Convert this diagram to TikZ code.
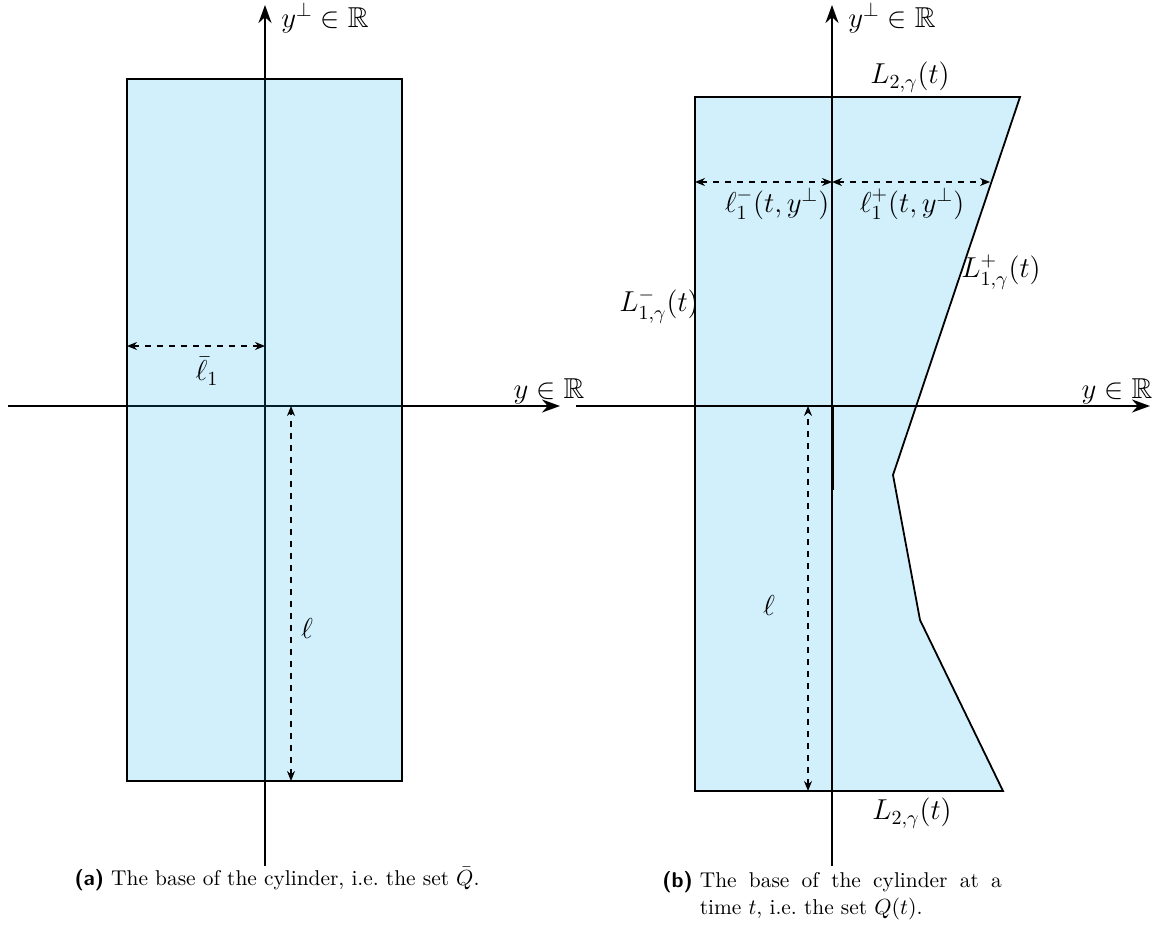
\documentclass[tikz,border=0pt]{standalone}
\usepackage{amsmath, amssymb}
\usepackage{tikz}
\usetikzlibrary{arrows.meta, positioning, calc}

\begin{document}
\begin{tikzpicture}[x=0.5pt, y=-0.5pt,
    axis/.style={-{Stealth[length=9pt, width=6.5pt]}, line width=1.3pt},
    region/.style={draw=black, line width=0.9pt, fill=cyan, fill opacity=0.18, draw opacity=1},
    measure/.style={{Stealth[length=5pt, width=4pt]}-{Stealth[length=5pt, width=4pt]},
                    dashed, line width=0.6pt},
    lbl/.style={font=\Large, inner sep=1pt},
    capt/.style={font=\fontsize{10.7}{13.2}\selectfont, inner sep=0pt}
]
    \useasboundingbox (0,0) rectangle (1166,941);

    % (a) the fixed base
    \coordinate (a-bot) at (265,866);
    \coordinate (a-top) at (265,5);
    \coordinate (a-left) at (8,406);
    \coordinate (a-right) at (560,406);
    \draw[axis] (a-bot) -- (a-top);
    \draw[axis] (a-left) -- (a-right);
    \node[lbl, anchor=west] (a-yperp) at (279,18) {$y^{\perp}\in\mathbb{R}$};
    \node[lbl] (a-y) at (549,391) {$y\in\mathbb{R}$};

    \draw[region] (127,79) rectangle (402,781);

    \coordinate (a-m1) at (127,346);
    \coordinate (a-m2) at (265,346);
    \draw[measure] (a-m1) -- (a-m2);
    \node[lbl] (a-l1) at (207,371) {$\bar{\ell}_1$};
    \coordinate (a-h1) at (291,781);
    \coordinate (a-h2) at (291,406);
    \draw[measure] (a-h1) -- (a-h2);
    \node[lbl] (a-l) at (307,628) {$\ell$};

    \node[capt] (cap-a) at (277,879)
        {\textsf{\textbf{(a)}} The base of the cylinder, i.e.\ the set $\bar{Q}$.};

    % (b) the moving base
    \draw[region] (695,97) -- (1020,97) -- (893,475) -- (920,620)
        -- (1003,791) -- (695,791) -- cycle;

    \coordinate (b-bot) at (832,866);
    \coordinate (b-top) at (832,5);
    \coordinate (b-left) at (576,406);
    \coordinate (b-right) at (1150,406);
    \coordinate (b-o) at (832,406);
    \coordinate (b-o2) at (832,490);
    \draw[axis] (b-bot) -- (b-top);
    \draw[axis] (b-left) -- (b-right);
    \draw[line width=1.5pt] (b-o) -- (b-o2);
    \node[lbl, anchor=west] (b-yperp) at (846,18) {$y^{\perp}\in\mathbb{R}$};
    \node[lbl] (b-y) at (1117,391) {$y\in\mathbb{R}$};

    \coordinate (b-m1) at (695,182);
    \coordinate (b-m2) at (832,182);
    \coordinate (b-m3) at (990,182);
    \draw[measure] (b-m1) -- (b-m2);
    \draw[measure] (b-m2) -- (b-m3);
    \node[lbl] (b-lminus) at (777,204) {$\ell_1^-(t,y^{\perp})$};
    \node[lbl] (b-lplus) at (912,204) {$\ell_1^+(t,y^{\perp})$};

    \node[lbl] (b-L2top) at (910,77) {$L_{2,\gamma}(t)$};
    \node[lbl] (b-L2bot) at (912,813) {$L_{2,\gamma}(t)$};
    \node[lbl] (b-L1minus) at (659,306) {$L_{1,\gamma}^-(t)$};
    \node[lbl] (b-L1plus) at (1001,272) {$L_{1,\gamma}^+(t)$};

    \coordinate (b-h1) at (808,791);
    \coordinate (b-h2) at (808,406);
    \draw[measure] (b-h1) -- (b-h2);
    \node[lbl] (b-l) at (769,605) {$\ell$};

    \node[capt, anchor=north west] (cap-b) at (662,869)
        {\begin{tabular}{@{}l@{\ }l@{}}
         \textsf{\textbf{(b)}} & \makebox[151pt][s]{The base of the cylinder at a}\\
                               & time $t$, i.e.\ the set $Q(t)$.
         \end{tabular}};
\end{tikzpicture}
\end{document}
